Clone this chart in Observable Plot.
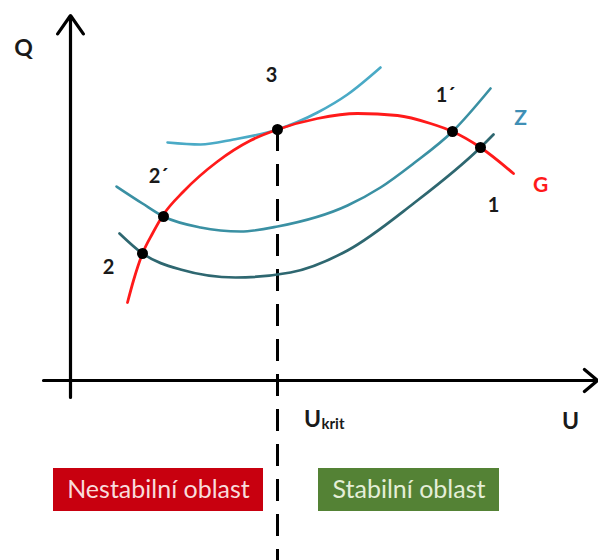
<!DOCTYPE html>
<html>
<head>
<meta charset="utf-8">
<script src="https://cdn.jsdelivr.net/npm/d3@7"></script>
<script src="https://cdn.jsdelivr.net/npm/@observablehq/plot@0.6"></script>
<style>
  html, body { margin: 0; padding: 0; background: #fff; }
  #chart svg { display: block; }
</style>
</head>
<body>
<div id="chart"></div>
<script>
// Schematic: U (x) vs Q (y), arbitrary units, origin at the axis crossing
const curveG   = [[57,78],[63,100],[72,127],[82,147],[93,166],[113,189],[147,219],[180,240],[207,251],[247,262],[287,267],[327,265],[360,257],[382,249],[410,233],[443,207]];
const curveTop = [[97,238],[130,236],[163,241],[207,251],[247,268],[277,286],[310,313]];
const curveZ   = [[46,194],[72,177],[93,164],[130,153],[170,149],[207,154],[277,175],[310,193],[343,217],[382,249],[420,292]];
const curveLow = [[49,147],[72,127],[110,111],[165,103],[220,108],[277,130],[343,177],[410,233],[423,246]];

const pointNames = ["2", "2´", "3", "1´", "1"];
const pointU = [72, 93, 207, 382, 410];
const pointQ = [127, 164, 251, 249, 233];

const labelTexts = ["3", "2´", "2", "1´", "1", "Q", "U", "U"];
const labelU = [201, 88, 38, 375, 423, -47, 500, 242];
const labelQ = [305, 204, 113, 285, 175, 332, -41, -39];

const curveLabels = ["Z", "G"];
const curveLabelU = [450, 470];
const curveLabelQ = [262, 195];

const Ukrit = 207;
const Qtop = 251;

const regionNames = ["Nestabilní oblast", "Stabilní oblast"];
const regionU1 = [-17, 248];
const regionU2 = [193, 429];
const regionQ1 = [-131, -131];
const regionQ2 = [-88, -88];

const toRows = (a) => a.map(([u, q]) => ({u, q}));
const pts = pointNames.map((n, i) => ({n, u: pointU[i], q: pointQ[i]}));
const labels = labelTexts.map((t, i) => ({t, u: labelU[i], q: labelQ[i]}));
const clabels = curveLabels.map((t, i) => ({t, u: curveLabelU[i], q: curveLabelQ[i]}));
const regions = regionNames.map((t, i) => ({t, u1: regionU1[i], u2: regionU2[i], q1: regionQ1[i], q2: regionQ2[i]}));

const font = "Lato, 'Open Sans', sans-serif";

const chart = Plot.plot({
  width: 598,
  height: 560,
  margin: 0,
  style: {background: "#fff", fontFamily: font},
  x: {domain: [-70, 528], axis: null},
  y: {domain: [-180, 380], axis: null},
  marks: [
    // axes with arrowheads
    Plot.arrow([{x1: 0, y1: -17, x2: 0, y2: 365}], {x1: "x1", y1: "y1", x2: "x2", y2: "y2", stroke: "#000", strokeWidth: 3.2, headLength: 10.5, headAngle: 70}),
    Plot.arrow([{x1: -27, y1: 0, x2: 527, y2: 0}], {x1: "x1", y1: "y1", x2: "x2", y2: "y2", stroke: "#000", strokeWidth: 3.2, headLength: 8, headAngle: 80}),
    // U_krit dashed line
    Plot.ruleX([Ukrit], {y1: Qtop, y2: -180, stroke: "#000", strokeWidth: 3, strokeDasharray: "22,13"}),
    // curves
    Plot.line(toRows(curveLow), {x: "u", y: "q", stroke: "#2e6770", strokeWidth: 2.7, curve: "monotone-x"}),
    Plot.line(toRows(curveZ), {x: "u", y: "q", stroke: "#3a90a3", strokeWidth: 2.6, curve: "monotone-x"}),
    Plot.line(toRows(curveTop), {x: "u", y: "q", stroke: "#4aaac6", strokeWidth: 2.6, curve: "monotone-x"}),
    Plot.line(toRows(curveG), {x: "u", y: "q", stroke: "#ff1a1a", strokeWidth: 2.8, curve: "monotone-x"}),
    // intersection points
    Plot.dot(pts, {x: "u", y: "q", r: 5.5, fill: "#000"}),
    // labels
    Plot.text(labels.slice(0, 5), {x: "u", y: "q", text: "t", fontSize: 20, fontWeight: "bold", fill: "#1a1a1a"}),
    Plot.text(labels.slice(5), {x: "u", y: "q", text: "t", fontSize: 23, fontWeight: "bold", fill: "#1a1a1a"}),
    Plot.text(["krit"], {x: 251, y: -44, text: d => d, textAnchor: "start", fontSize: 15, fontWeight: "bold", fill: "#1a1a1a"}),
    Plot.text(clabels, {x: "u", y: "q", text: "t", fontSize: 21, fontWeight: "bold", fill: (d) => d.t === "Z" ? "#3f8fb5" : "#ff1a1a"}),
    // region boxes
    Plot.rect(regions, {x1: "u1", x2: "u2", y1: "q1", y2: "q2", fill: (d, i) => i === 0 ? "#c8000f" : "#548235"}),
    Plot.text(regions, {x: (d) => (d.u1 + d.u2) / 2, y: (d) => (d.q1 + d.q2) / 2, text: "t", fontSize: 25, fill: (d, i) => i === 0 ? "#f8dcdc" : "#e4eed8"})
  ]
});
document.getElementById("chart").appendChild(chart);
</script>
</body>
</html>
